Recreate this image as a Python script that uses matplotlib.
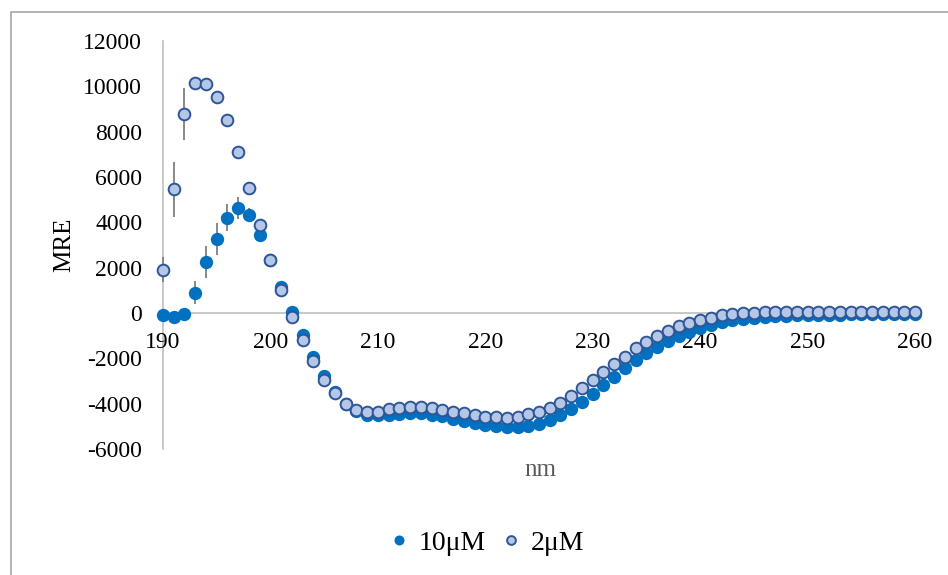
import numpy as np
import matplotlib.pyplot as plt
from matplotlib.patches import Rectangle

plt.rcParams['font.family'] = ['Liberation Serif', 'DejaVu Serif']
plt.rcParams['axes.unicode_minus'] = False

nm = np.arange(190, 261)

# 10 uM series (filled)
mre_10 = [-100, -180, -60, 900, 2240, 3260, 4200, 4620, 4320, 3460,
          2350, 1130, 60, -970, -1920, -2780, -3490, -4010, -4330, -4500,
          -4520, -4480, -4440, -4420, -4420, -4480, -4560, -4660, -4760, -4840,
          -4920, -4990, -5030, -5050, -4990, -4880, -4720, -4500, -4250, -3910,
          -3560, -3180, -2810, -2440, -2070, -1780, -1490, -1220, -1010, -820,
          -660, -510, -400, -320, -260, -210, -170, -140, -120, -100,
          -90, -80, -70, -70, -60, -60, -50, -50, -50, -40, -40]
err_10 = [0, 0, 0, 500, 700, 700, 600, 480, 300, 0] + [0] * 61

# 2 uM series (open)
mre_2 = [1900, 5450, 8770, 10160, 10100, 9520, 8510, 7120, 5500, 3880,
         2340, 1010, -160, -1190, -2120, -2940, -3540, -4010, -4280, -4380,
         -4350, -4240, -4180, -4130, -4145, -4200, -4280, -4350, -4425, -4500,
         -4570, -4610, -4620, -4600, -4470, -4350, -4180, -3955, -3655, -3310,
         -2970, -2615, -2265, -1925, -1560, -1265, -1015, -780, -575, -425,
         -305, -200, -110, -50, -10, 15, 30, 40, 45, 50,
         50, 50, 50, 50, 50, 50, 50, 50, 50, 50, 50]
err_2 = [550, 1200, 1150, 250] + [0] * 67

fig = plt.figure(figsize=(9.48, 5.75), dpi=100)
ax = fig.add_axes([163 / 948, 1 - 449 / 575, 752 / 948, 408 / 575])

# outer chart border (only top/left visible in the reference)
fig.patches.append(Rectangle((10.5 / 948, -0.1), 1.2, 1 - 11.5 / 575 + 0.1,
                             transform=fig.transFigure, fill=False,
                             edgecolor='#a6a6a6', linewidth=1.2))

ax.errorbar(nm, mre_10, yerr=err_10, fmt='none', ecolor='#7f7f7f',
            elinewidth=1.3, capsize=0, zorder=2, clip_on=False)
ax.errorbar(nm, mre_2, yerr=err_2, fmt='none', ecolor='#7f7f7f',
            elinewidth=1.3, capsize=0, zorder=2, clip_on=False)
ax.plot(nm, mre_10, 'o', color='#0070c0', markersize=9.6, markeredgewidth=0,
        label='10μM', zorder=3, clip_on=False)
ax.plot(nm, mre_2, 'o', markerfacecolor='#b4c7e7', markeredgecolor='#2f5597',
        markersize=8.4, markeredgewidth=1.4, label='2μM', zorder=4, clip_on=False)

ax.set_xlim(190, 260)
ax.set_ylim(-6000, 12000)
ax.set_xticks(np.arange(190, 261, 10))
ax.set_yticks(np.arange(-6000, 12001, 2000))

for s in ['top', 'right']:
    ax.spines[s].set_visible(False)
ax.spines['bottom'].set_position(('data', 0))
for s in ['bottom', 'left']:
    ax.spines[s].set_color('#bfbfbf')
    ax.spines[s].set_linewidth(1.2)
    ax.spines[s].set_zorder(1)
ax.tick_params(axis='x', length=0, pad=14, labelsize=17)
ax.tick_params(axis='y', length=0, pad=15, labelsize=17)

ax.set_ylabel('MRE', fontsize=18, labelpad=6)
fig.text(540 / 948, 1 - 470 / 575, 'nm', fontsize=18, color='#595959',
         ha='center', va='center')

fig.legend(loc='center', bbox_to_anchor=(486 / 948, 1 - 543 / 575), ncol=2,
           frameon=False, fontsize=20, markerscale=0.75, handlelength=0.8,
           handletextpad=0.3, columnspacing=0.5)

fig.savefig('out.png', dpi=100)
